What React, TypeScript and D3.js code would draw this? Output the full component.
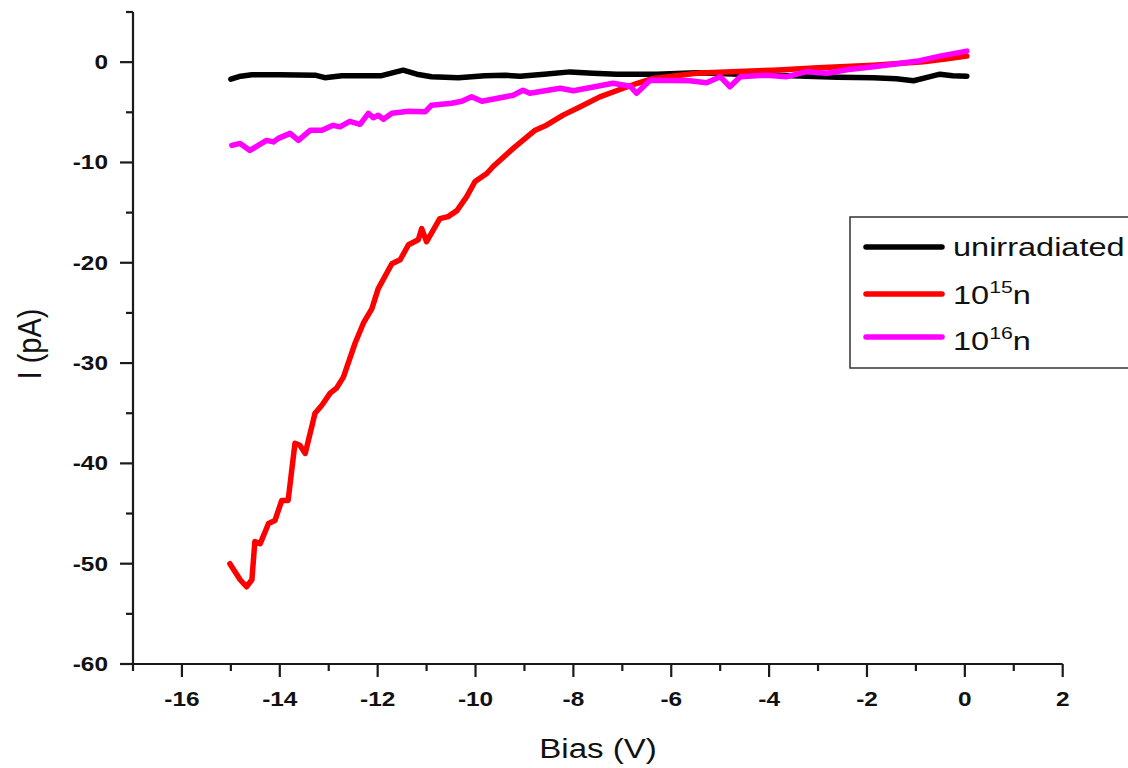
import { useEffect, useRef } from "react";
import * as d3 from "d3";

// readings: [bias (V), current (pA)]
const unirradiated: [number, number][] = [
  [-15.0, -1.7], [-14.8, -1.4], [-14.57, -1.25], [-14.0, -1.25], [-13.28, -1.3],
  [-13.08, -1.55], [-12.73, -1.35], [-11.92, -1.35], [-11.48, -0.8], [-11.2, -1.2],
  [-10.9, -1.45], [-10.35, -1.55], [-9.81, -1.35], [-9.4, -1.3], [-9.09, -1.4],
  [-8.6, -1.2], [-8.07, -0.97], [-7.6, -1.1], [-7.11, -1.2], [-6.3, -1.2],
  [-5.47, -1.05], [-4.6, -1.2], [-3.23, -1.4], [-2.6, -1.5], [-1.87, -1.55],
  [-1.4, -1.65], [-1.05, -1.85], [-0.75, -1.5], [-0.51, -1.2], [-0.25, -1.35], [0.04, -1.4],
];

const n1e15: [number, number][] = [
  [-15.02, -50.0], [-14.81, -51.6], [-14.68, -52.3], [-14.57, -51.6], [-14.51, -47.8],
  [-14.4, -48.0], [-14.23, -46.0], [-14.1, -45.7], [-13.96, -43.7], [-13.83, -43.7],
  [-13.69, -38.0], [-13.59, -38.2], [-13.48, -39.0], [-13.28, -35.0], [-13.14, -34.2],
  [-12.97, -33.0], [-12.84, -32.5], [-12.7, -31.4], [-12.46, -28.0], [-12.29, -26.0],
  [-12.12, -24.6], [-11.99, -22.6], [-11.71, -20.1], [-11.54, -19.7], [-11.37, -18.2],
  [-11.17, -17.7], [-11.1, -16.6], [-11.0, -17.9], [-10.73, -15.6], [-10.56, -15.4],
  [-10.38, -14.8], [-10.18, -13.4], [-10.01, -11.9], [-9.77, -11.1], [-9.64, -10.4],
  [-9.23, -8.6], [-8.78, -6.78], [-8.55, -6.28], [-8.21, -5.28], [-7.86, -4.45],
  [-7.46, -3.46], [-7.05, -2.73], [-6.71, -2.13], [-6.37, -1.63], [-5.82, -1.3],
  [-5.41, -1.07], [-3.91, -0.8], [-3.0, -0.55], [-1.87, -0.3], [-0.85, 0.03],
  [-0.4, 0.3], [0.04, 0.6],
];

const n1e16: [number, number][] = [
  [-14.98, -8.3], [-14.81, -8.1], [-14.61, -8.8], [-14.44, -8.3], [-14.27, -7.8],
  [-14.13, -7.95], [-14.03, -7.6], [-13.79, -7.1], [-13.62, -7.8], [-13.38, -6.8],
  [-13.14, -6.8], [-12.91, -6.3], [-12.77, -6.45], [-12.57, -5.9], [-12.36, -6.2],
  [-12.19, -5.1], [-12.09, -5.55], [-11.99, -5.3], [-11.88, -5.7], [-11.71, -5.1],
  [-11.37, -4.9], [-11.03, -4.95], [-10.9, -4.3], [-10.49, -4.1], [-10.28, -3.9],
  [-10.08, -3.45], [-9.87, -3.9], [-9.23, -3.3], [-9.03, -2.8], [-8.89, -3.1],
  [-8.27, -2.6], [-8.0, -2.85], [-7.19, -2.1], [-6.84, -2.4], [-6.71, -3.1],
  [-6.43, -1.8], [-5.62, -1.85], [-5.28, -2.05], [-5.0, -1.45], [-4.8, -2.45],
  [-4.59, -1.45], [-4.05, -1.3], [-3.64, -1.45], [-3.23, -0.95], [-2.82, -1.1],
  [-2.41, -0.75], [-1.87, -0.45], [-1.46, -0.2], [-0.92, 0.15], [-0.51, 0.6], [0.04, 1.1],
];

const seriesColors = ["#000000", "#ff0000", "#ff00ff"];
const xTicks = [-16, -14, -12, -10, -8, -6, -4, -2, 0, 2];
const yTicks = [-60, -50, -40, -30, -20, -10, 0];

const FONT = "'Liberation Sans', Arial, sans-serif";

export default function App() {
  const ref = useRef<SVGSVGElement>(null);

  useEffect(() => {
    const svg = d3.select(ref.current);
    svg.selectAll("*").remove();

    const left = 133;
    const right = 1062.7;
    const top = 12;
    const bottom = 664;

    const x = d3.scaleLinear().domain([-17, 2]).range([left, right]);
    const y = d3.scaleLinear().domain([-60, 5]).range([bottom, top]);

    const axisColor = "#1a1a1a";

    // x axis
    const gx = svg.append("g").attr("stroke", axisColor).attr("stroke-width", 2.2);
    gx.append("line").attr("x1", left).attr("x2", right).attr("y1", bottom).attr("y2", bottom);
    d3.range(-17, 2, 2).forEach((v) => {
      gx.append("line").attr("x1", x(v)).attr("x2", x(v)).attr("y1", bottom).attr("y2", bottom + 7);
    });
    xTicks.forEach((v) => {
      gx.append("line").attr("x1", x(v)).attr("x2", x(v)).attr("y1", bottom).attr("y2", bottom + 13);
      svg
        .append("text")
        .attr("transform", `translate(${x(v)},706) scale(1.22,1)`)
        .attr("text-anchor", "middle")
        .attr("font-family", FONT)
        .attr("font-weight", "bold")
        .attr("font-size", 20)
        .attr("fill", "#111")
        .text(v);
    });

    // y axis
    const gy = svg.append("g").attr("stroke", axisColor).attr("stroke-width", 2.2);
    gy.append("line").attr("x1", left).attr("x2", left).attr("y1", top).attr("y2", bottom + 1);
    d3.range(-55, 6, 10).forEach((v) => {
      gy.append("line").attr("x1", left - 7).attr("x2", left).attr("y1", y(v)).attr("y2", y(v));
    });
    yTicks.forEach((v) => {
      gy.append("line").attr("x1", left - 13).attr("x2", left).attr("y1", y(v)).attr("y2", y(v));
      svg
        .append("text")
        .attr("transform", `translate(108,${y(v) + 7}) scale(1.22,1)`)
        .attr("text-anchor", "end")
        .attr("font-family", FONT)
        .attr("font-weight", "bold")
        .attr("font-size", 20)
        .attr("fill", "#111")
        .text(v);
    });

    // axis titles
    svg
      .append("text")
      .attr("transform", "translate(598,758) scale(1.18,1)")
      .attr("text-anchor", "middle")
      .attr("font-family", FONT)
      .attr("font-size", 28)
      .attr("fill", "#111")
      .text("Bias (V)");
    svg
      .append("text")
      .attr("transform", "translate(41,344) rotate(-90) scale(1,1.15)")
      .attr("text-anchor", "middle")
      .attr("font-family", FONT)
      .attr("font-size", 29)
      .attr("fill", "#111")
      .text("I (pA)");

    // curves
    const line = d3
      .line<[number, number]>()
      .x((d) => x(d[0]))
      .y((d) => y(d[1]));

    [unirradiated, n1e15, n1e16].forEach((data, i) => {
      svg
        .append("path")
        .datum(data)
        .attr("d", line)
        .attr("fill", "none")
        .attr("stroke", seriesColors[i])
        .attr("stroke-width", 5.5)
        .attr("stroke-linejoin", "round")
        .attr("stroke-linecap", "round");
    });

    // legend
    const lg = svg.append("g");
    lg.append("rect")
      .attr("x", 850)
      .attr("y", 217)
      .attr("width", 300)
      .attr("height", 151)
      .attr("fill", "#fff")
      .attr("stroke", "#333")
      .attr("stroke-width", 1.5);

    const rows = [
      { y: 247, base: 256, label: "unirradiated" },
      { y: 294, base: 304, label: "10", sup: "15" },
      { y: 337, base: 350, label: "10", sup: "16" },
    ];
    rows.forEach((r, i) => {
      lg.append("line")
        .attr("x1", 866)
        .attr("x2", 942)
        .attr("y1", r.y)
        .attr("y2", r.y)
        .attr("stroke", seriesColors[i])
        .attr("stroke-width", 5.5)
        .attr("stroke-linecap", "round");
      const t = lg
        .append("text")
        .attr("transform", `translate(953,${r.base}) scale(1.25,1)`)
        .attr("font-family", FONT)
        .attr("font-size", 26)
        .attr("fill", "#111");
      t.append("tspan").text(r.label);
      if (r.sup) {
        t.append("tspan").attr("font-size", 17).attr("dy", -11).text(r.sup);
        t.append("tspan").attr("dy", 11).text("n");
      }
    });
  }, []);

  return (
    <svg
      ref={ref}
      width={1128}
      height={768}
      style={{ position: "absolute", left: 0, top: 0, background: "#fff" }}
    ></svg>
  );
}
